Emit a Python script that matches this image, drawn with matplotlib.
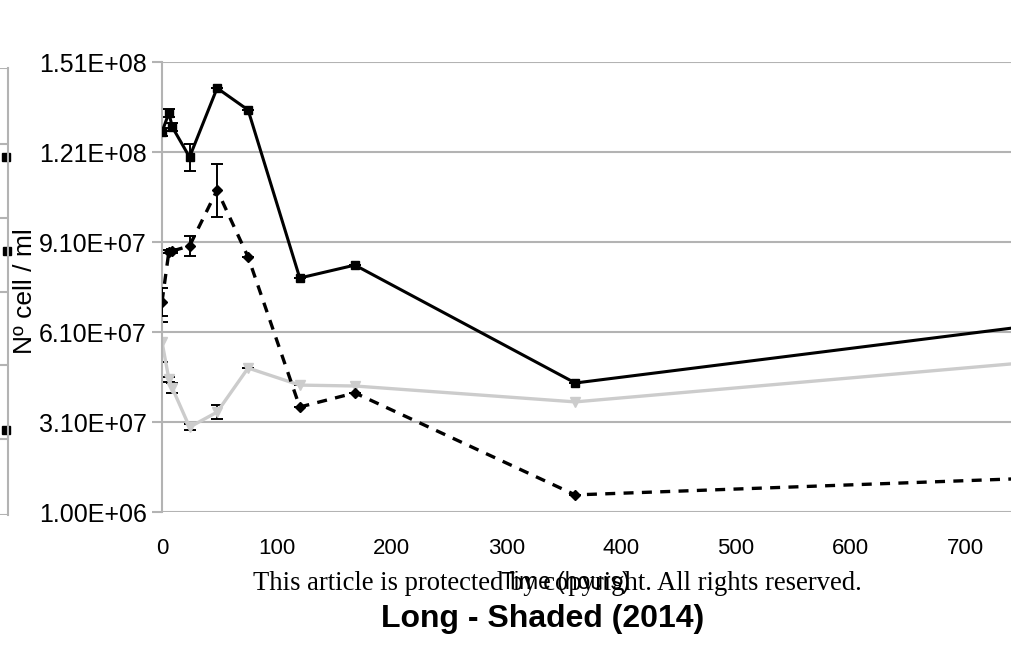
import numpy as np
import matplotlib
matplotlib.use("Agg")
import matplotlib.pyplot as plt

plt.rcParams['font.family'] = ['Liberation Sans', 'DejaVu Sans']

# sampling times (hours)
hours = [0, 6, 9, 24, 48, 75, 120, 168, 360, 840]

# series values (cells / ml)
solid_vals = [1.277e8, 1.34e8, 1.293e8, 1.193e8, 1.423e8, 1.35e8, 7.9e7, 8.33e7, 4.40e7, 6.71e7]
solid_err = [1.2e6, 1.2e6, 1.4e6, 4.5e6, 0, 0, 0, 0, 0, 0]

dashed_vals = [7.1e7, 8.78e7, 8.8e7, 8.97e7, 1.083e8, 8.6e7, 3.6e7, 4.07e7, 6.7e6, 1.34e7]
dashed_err = [4.8e6, 0.6e6, 0.6e6, 3.2e6, 8.8e6, 0, 0, 0, 0, 0]

grey_vals = [5.77e7, 4.53e7, 4.23e7, 2.93e7, 3.43e7, 4.9e7, 4.33e7, 4.3e7, 3.77e7, 5.37e7]
grey_err = [6.8e6, 0.8e6, 1.6e6, 1.0e6, 2.3e6, 0, 0, 0, 0, 0]

yticks = [1.0e6, 3.1e7, 6.1e7, 9.1e7, 1.21e8, 1.51e8]
ytick_labels = ['1.00E+06', '3.10E+07', '6.10E+07', '9.10E+07', '1.21E+08', '1.51E+08']
xticks = [0, 100, 200, 300, 400, 500, 600, 700]

# bits of the neighbouring panel that show at the left edge
frag_x = [0.985, 0.99, 0.985]
frag_y = [0.80, 0.59, 0.19]
frag_grid = [0.0, 0.17, 0.335, 0.50, 0.665, 0.83, 1.0]

W, H = 1012, 649
fig = plt.figure(figsize=(W / 100, H / 100), dpi=100)

grid_col = '#b3b3b3'

# left fragment
fa = fig.add_axes([-0.1, 1 - 515 / H, 0.1 + 8 / W, (515 - 68) / H])
fa.set_xlim(0, 1)
fa.set_ylim(0, 1)
for s in ['top', 'left', 'bottom']:
    fa.spines[s].set_visible(False)
fa.spines['right'].set_color(grid_col)
fa.spines['right'].set_linewidth(1.5)
for g in frag_grid:
    fa.axhline(g, color=grid_col, lw=1.5)
fa.plot(frag_x, frag_y, ls='none', marker='s', ms=6, color='black', clip_on=False)
fa.set_xticks([])
fa.set_yticks([])

# main panel
ax = fig.add_axes([162 / W, 1 - 512 / H, 1 - 162 / W, (512 - 62) / H])
ax.set_xlim(0, 740.4)
ax.set_ylim(1.0e6, 1.51e8)

for t in yticks:
    ax.axhline(t, color=grid_col, lw=1.5, zorder=0)

ax.errorbar(hours, grey_vals, yerr=grey_err, color='#cccccc', lw=2.4,
            marker='v', ms=7, mec='#cccccc', ecolor='black', elinewidth=1.4,
            capsize=4.5, capthick=1.4, zorder=2)
ax.errorbar(hours, dashed_vals, yerr=dashed_err, color='black', lw=2.4,
            ls=(0, (3, 2.5)), marker='D', ms=5, ecolor='black', elinewidth=1.4,
            capsize=4.5, capthick=1.4, zorder=3)
ax.errorbar(hours, solid_vals, yerr=solid_err, color='black', lw=2.2,
            marker='s', ms=6, ecolor='black', elinewidth=1.4,
            capsize=4.5, capthick=1.4, zorder=4)

for s in ['top', 'right', 'bottom']:
    ax.spines[s].set_visible(False)
ax.spines['left'].set_color(grid_col)
ax.spines['left'].set_linewidth(1.5)

ax.set_yticks(yticks)
ax.set_yticklabels(ytick_labels, fontsize=18)
ax.tick_params(axis='y', length=7, width=1.5, color=grid_col, pad=4)
ax.set_xticks(xticks)
ax.set_xticklabels([str(v) for v in xticks], fontsize=16)
ax.tick_params(axis='x', length=0, pad=19)

fig.text(25 / W, 1 - 291 / H, 'Nº cell / ml', rotation=90, fontsize=19,
         ha='center', va='center')
fig.text(565 / W, 1 - 582 / H, 'Time (hours)', fontsize=16.5,
         ha='center', va='center')
fig.text(557 / W, 1 - 584 / H,
         'This article is protected by copyright. All rights reserved.',
         fontsize=19.2, family='Liberation Serif', ha='center', va='center')
fig.text(543 / W, 1 - 619 / H, 'Long - Shaded (2014)', fontsize=23,
         fontweight='bold', ha='center', va='center')

fig.savefig('out.png', dpi=100)
